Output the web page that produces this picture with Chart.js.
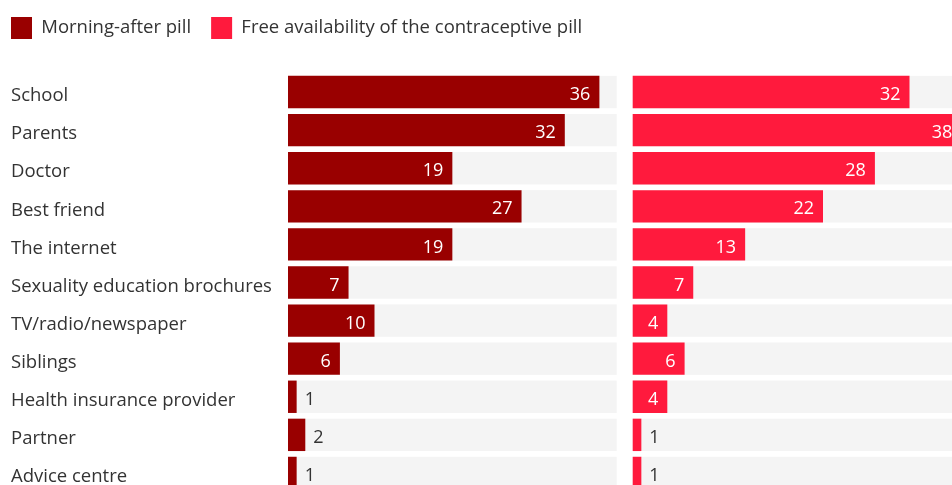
<!DOCTYPE html>
<html>
<head>
<meta charset="utf-8">
<script src="https://cdn.jsdelivr.net/npm/chart.js@4/dist/chart.umd.min.js"></script>
<style>
  html, body { margin: 0; padding: 0; background: #fff; overflow: hidden; width: 952px; height: 485px; }
  #sourcesChart { position: absolute; left: 0; top: 0; }
</style>
</head>
<body>
<canvas id="sourcesChart" width="980" height="495"></canvas>
<script>
const categories = ['School', 'Parents', 'Doctor', 'Best friend', 'The internet', 'Sexuality education brochures',
    'TV/radio/newspaper', 'Siblings', 'Health insurance provider', 'Partner', 'Advice centre'];
const morningAfter = [36, 32, 19, 27, 19, 7, 10, 6, 1, 2, 1];
const freePill = [32, 38, 28, 22, 13, 7, 4, 6, 4, 1, 1];
const seriesNames = ['Morning-after pill', 'Free availability of the contraceptive pill'];

const darkRed = '#990000';
const brightRed = '#ff1a3d';
const trackColor = '#f4f4f4';
const trackMax = 38; // grey track length per panel
const fontFamily = '"Open Sans", Lato, sans-serif';

// grey background track behind each bar
const tracks = {
    id: 'tracks',
    beforeDatasetsDraw(chart) {
        const ctx = chart.ctx;
        ctx.save();
        ctx.fillStyle = trackColor;
        chart.data.datasets.forEach((ds, i) => {
            const scale = chart.scales[ds.xAxisID];
            const x0 = scale.getPixelForValue(0);
            const x1 = scale.getPixelForValue(trackMax);
            chart.getDatasetMeta(i).data.forEach(bar => {
                ctx.fillRect(x0, bar.y - bar.height / 2, x1 - x0, bar.height);
            });
        });
        ctx.restore();
    }
};

// value labels: inside the bar in white, or just outside in grey for short bars
const valueLabels = {
    id: 'valueLabels',
    afterDatasetsDraw(chart) {
        const ctx = chart.ctx;
        ctx.save();
        ctx.font = '18px ' + fontFamily;
        ctx.textBaseline = 'middle';
        chart.data.datasets.forEach((ds, i) => {
            const base = chart.scales[ds.xAxisID].getPixelForValue(0);
            chart.getDatasetMeta(i).data.forEach((bar, j) => {
                const inside = bar.x - base > 25;
                ctx.fillStyle = inside ? '#ffffff' : '#333333';
                ctx.textAlign = inside ? 'right' : 'left';
                ctx.fillText(String(ds.data[j]), inside ? bar.x - 9 : bar.x + 8, bar.y + 3);
            });
        });
        ctx.restore();
    }
};

// extra space under the legend, and category labels pulled in from the edge
const layoutTweaks = {
    id: 'layoutTweaks',
    afterInit(chart) {
        const fit = chart.legend.fit;
        chart.legend.fit = function () {
            fit.call(this);
            this.height += 24;
        };
    },
    afterLayout(chart) {
        chart.scales.y.left = 11;
    }
};

const ctx = document.getElementById('sourcesChart').getContext('2d');

new Chart(ctx, {
    type: 'bar',
    data: {
        labels: categories,
        datasets: [{
            label: seriesNames[0],
            data: morningAfter,
            backgroundColor: darkRed,
            xAxisID: 'x'
        }, {
            label: seriesNames[1],
            data: freePill,
            backgroundColor: brightRed,
            xAxisID: 'x2'
        }]
    },
    options: {
        indexAxis: 'y',
        responsive: false,
        animation: false,
        layout: { padding: { left: -9, top: -3, right: 0, bottom: 3 } },
        datasets: {
            bar: { grouped: false, barPercentage: 0.85, categoryPercentage: 1, borderWidth: 0 }
        },
        plugins: {
            tooltip: { enabled: false },
            legend: {
                display: true,
                position: 'top',
                align: 'start',
                labels: {
                    boxWidth: 21,
                    boxHeight: 22,
                    padding: 20,
                    color: '#333333',
                    font: { family: fontFamily, size: 18.5 }
                }
            }
        },
        scales: {
            x: { display: false, min: 0, max: 80 },
            x2: { display: false, min: -39.85, max: 40.15 },
            y: {
                grid: { display: false },
                border: { display: false },
                ticks: {
                    autoSkip: false,
                    crossAlign: 'far',
                    labelOffset: 4,
                    color: '#333333',
                    font: { family: fontFamily, size: 18.5 }
                },
                afterFit(scale) {
                    scale.width = 297;
                    scale.paddingTop = 0;
                    scale.paddingBottom = 0;
                }
            }
        }
    },
    plugins: [tracks, valueLabels, layoutTweaks]
});
</script>
</body>
</html>
